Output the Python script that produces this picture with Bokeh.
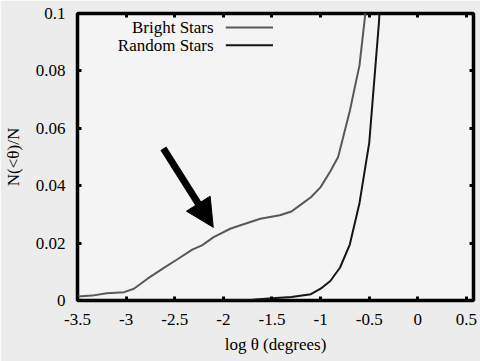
from bokeh.plotting import figure
from bokeh.models import LinearAxis, FixedTicker, Range1d, Arrow, NormalHead, Label
from bokeh.embed import file_html
from bokeh.resources import INLINE

# ---- data ----
bright_x = [-3.5, -3.35, -3.2, -3.02, -2.92, -2.78, -2.6, -2.48, -2.32, -2.22, -2.1,
            -1.93, -1.8, -1.62, -1.42, -1.3, -1.2, -1.1, -1.0, -0.9, -0.82, -0.7,
            -0.6, -0.5]
bright_y = [0.0014, 0.0017, 0.0025, 0.0029, 0.0041, 0.0076, 0.0116, 0.0142, 0.0177,
            0.0192, 0.0221, 0.025, 0.0265, 0.0285, 0.0297, 0.031, 0.0335, 0.036,
            0.0395, 0.045, 0.05, 0.066, 0.082, 0.112]

random_x = [-3.5, -2.0, -1.7, -1.5, -1.3, -1.1, -1.0, -0.9, -0.8, -0.7, -0.6, -0.5,
            -0.4, -0.3]
random_y = [0.0, 0.0, 0.0003, 0.0008, 0.0012, 0.0022, 0.0041, 0.0068, 0.0115, 0.0195,
            0.034, 0.055, 0.097, 0.16]

x_ticks = [-3.5, -3, -2.5, -2, -1.5, -1, -0.5, 0, 0.5]
x_tick_labels = ["-3.5", "-3", "-2.5", "-2", "-1.5", "-1", "-0.5", "0", "0.5"]
y_ticks = [0, 0.02, 0.04, 0.06, 0.08, 0.1]
y_tick_labels = ["0", "0.02", "0.04", "0.06", "0.08", "0.1"]

series_names = ["Bright Stars", "Random Stars"]
series_colors = ["#585858", "#151515"]

# annotation arrow (data coords)
arrow_start = (-2.617, 0.053)
arrow_end = (-2.104, 0.0255)

FONT = "'Liberation Serif', serif"

p = figure(width=480, height=361, output_backend="svg", toolbar_location=None,
           x_range=Range1d(-3.5, 0.572), y_range=Range1d(0, 0.1),
           min_border_left=77, min_border_right=7, min_border_top=13,
           min_border_bottom=61)

p.background_fill_color = "#f4f4f4"
p.border_fill_color = "#ececec"
p.outline_line_color = "black"
p.outline_line_width = 3.5
p.grid.visible = False

p.line(bright_x, bright_y, line_color=series_colors[0], line_width=2)
p.line(random_x, random_y, line_color=series_colors[1], line_width=2)

def style_axis(ax, show_labels=True):
    ax.axis_line_color = None
    ax.major_tick_in = 4
    ax.major_tick_out = 0
    ax.major_tick_line_width = 3
    ax.major_tick_line_color = "black"
    ax.minor_tick_line_color = None
    ax.major_label_text_font = FONT
    ax.major_label_text_font_size = "17px"
    ax.major_label_text_color = "black"
    ax.axis_label_text_font = FONT
    ax.axis_label_text_font_style = "normal"
    ax.axis_label_text_font_size = "17px"
    ax.axis_label_text_color = "black"
    if not show_labels:
        ax.major_label_text_font_size = "0px"
        ax.major_label_text_color = None
        ax.major_label_standoff = 0

xa = p.xaxis[0]
xa.ticker = FixedTicker(ticks=x_ticks)
xa.major_label_overrides = {t: l for t, l in zip(x_ticks, x_tick_labels)}
xa.axis_label = "log θ (degrees)"
style_axis(xa)
xa.major_label_standoff = 13
xa.axis_label_standoff = 7

ya = p.yaxis[0]
ya.ticker = FixedTicker(ticks=y_ticks)
ya.major_label_overrides = {t: l for t, l in zip(y_ticks, y_tick_labels)}
ya.axis_label = "N(<θ)/N"
style_axis(ya)
ya.major_label_standoff = 12
ya.axis_label_standoff = 10

top = LinearAxis(ticker=FixedTicker(ticks=x_ticks))
style_axis(top, show_labels=False)
p.add_layout(top, "above")
right = LinearAxis(ticker=FixedTicker(ticks=y_ticks))
style_axis(right, show_labels=False)
p.add_layout(right, "right")

# legend (gnuplot style: text then line sample)
leg_text_x = -2.10
leg_line_x0, leg_line_x1 = -1.975, -1.49
leg_y = [0.0951, 0.0889]
for name, col, yy in zip(series_names, series_colors, leg_y):
    p.add_layout(Label(x=leg_text_x, y=yy, text=name, text_align="right",
                       text_baseline="middle", text_font=FONT,
                       text_font_size="17px", text_color="black"))
    p.segment(x0=[leg_line_x0], y0=[yy], x1=[leg_line_x1], y1=[yy],
              line_color=col, line_width=2)

p.add_layout(Arrow(end=NormalHead(size=28, fill_color="black", line_color="black",
                                  line_width=1),
                   x_start=arrow_start[0], y_start=arrow_start[1],
                   x_end=arrow_end[0], y_end=arrow_end[1],
                   line_width=7, line_color="black"))

open("out.html", "w").write(file_html(p, INLINE))
